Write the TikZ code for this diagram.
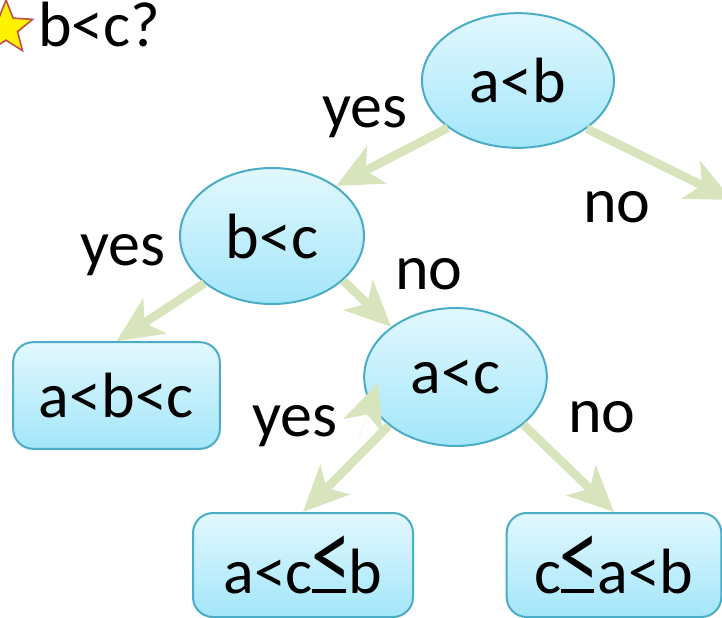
\documentclass[tikz,border=0pt]{standalone}
\usepackage{fontspec}
\usepackage{graphicx}
\setmainfont{Carlito}
\usetikzlibrary{shapes.geometric,arrows.meta}
\definecolor{nodeline}{RGB}{75,172,198}
\definecolor{nodetop}{RGB}{226,248,254}
\definecolor{nodebottom}{RGB}{163,230,250}
\definecolor{flow}{RGB}{216,228,188}
\definecolor{starline}{RGB}{192,80,77}
% a tall "less or equal" sign: enlarged chevron over a bar on the baseline
\newcommand{\leqmark}{\makebox[0.56em][c]{\rlap{\hspace{0.02em}\rule{0.52em}{0.06em}}\raisebox{0.05em}{\scalebox{1.25}[1.6]{<}}}}
\begin{document}
\begin{tikzpicture}[x=0.75pt,y=-0.75pt,
  every node/.style={font=\fontsize{48}{58}\selectfont},
  test/.style={ellipse, draw=nodeline, line width=1.5pt, top color=nodetop,
    bottom color=nodebottom, inner sep=0pt},
  outcome/.style={rectangle, rounded corners=15pt, draw=nodeline, line width=1.5pt,
    top color=nodetop, bottom color=nodebottom, inner sep=0pt},
  flowarrow/.style={draw=flow, line width=6.5pt,
    -{Stealth[length=34pt,width=31pt,inset=9pt]}},
  answer/.style={anchor=base west, inner sep=0pt}
]
\path[use as bounding box] (0,0) rectangle (722,618);
\clip (0,0) rectangle (722,618);

% heading
\node[star, star points=5, star point ratio=2.3, minimum size=42pt, inner sep=0pt,
  draw=starline, line width=1.2pt, fill=yellow] (star) at (6,28) {};
\node[answer] (title) at (38,46) {b<c?};

% decisions
\node[test, minimum width=144pt, minimum height=101pt] (ab) at (518,80.5) {a<b};
\node[test, minimum width=138pt, minimum height=102pt] (bc) at (272,236) {b<c};
\node[test, minimum width=137pt, minimum height=103.5pt] (ac) at (455.5,377) {a<c};

% outcomes
\node[outcome, minimum width=155pt, minimum height=80pt] (abc) at (116.5,395.5) {a<b<c};
\node[outcome, minimum width=165pt, minimum height=78pt] (acb) at (303,565) {a<c\leqmark b};
\node[outcome, minimum width=161pt, minimum height=78pt] (cab) at (614,565) {c\leqmark a<b};

% branches
\coordinate (offpage) at (732,200);
\draw[flowarrow] (ab.214) -- (bc.38);
\draw[flowarrow] (ab.325.5) -- (offpage);
\draw[flowarrow] (bc.215) -- (abc.north);
\draw[flowarrow] (bc.328) -- (ac.142.4);
\draw[flowarrow] (ac.216) -- (acb.north);
\draw[flowarrow] (ac.325.4) -- (cab.north);

% loose head beside the a<c node
\coordinate (strayback) at (358,440);
\coordinate (straytip) at (378,383);
\draw[flowarrow, line width=0.1pt] (strayback) -- (straytip);

% branch labels
\node[answer] (yes1) at (322,127) {yes};
\node[answer] (no1) at (583,222) {no};
\node[answer] (yes2) at (80,265) {yes};
\node[answer] (no2) at (395,289) {no};
\node[answer] (yes3) at (252,436) {yes};
\node[answer] (no3) at (568,432) {no};
\end{tikzpicture}
\end{document}
